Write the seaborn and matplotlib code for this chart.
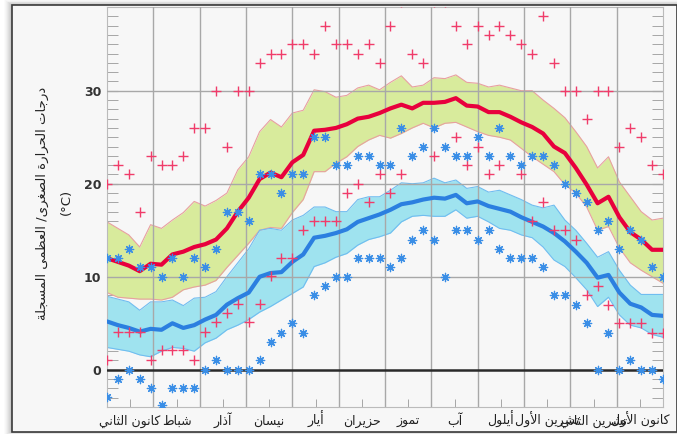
import numpy as np
import pandas as pd
import matplotlib
matplotlib.use("Agg")
import matplotlib.pyplot as plt
import matplotlib.transforms as mtransforms
import seaborn as sns
from matplotlib.patches import Rectangle

# ---------------- data ----------------
months = ["كانون الثاني", "شباط", "آذار", "نيسان", "أيار", "حزيران",
          "تموز", "آب", "أيلول", "تشرين الأول", "تشرين الثاني", "كانون الأول"]
ylabel_ar = "درجات الحرارة الصغرى/ العظمى المسجلة"
ylabel_unit = "(°C)"
ytick_vals = [0, 10, 20, 30]

week = list(range(52))

max_mean = [12.0, 11.6, 11.2, 10.6, 11.4, 11.3, 12.4, 12.7, 13.2, 13.5, 14.0, 15.2, 17.0, 18.5,
            20.5, 21.2, 20.7, 22.3, 23.1, 25.7, 25.8, 26.0, 26.4, 27.0, 27.2, 27.6, 28.1, 28.5,
            28.1, 28.7, 28.7, 28.8, 29.2, 28.4, 28.3, 27.7, 27.7, 27.2, 26.6, 26.1, 25.4, 24.0,
            23.3, 21.7, 19.9, 17.9, 18.6, 16.4, 14.8, 14.0, 12.9, 12.9]
max_hi = [15.9, 15.2, 14.5, 13.2, 15.6, 15.2, 16.1, 16.9, 18.1, 17.6, 18.2, 19.0, 21.5, 22.9,
          25.6, 26.9, 26.1, 27.6, 27.9, 30.1, 29.9, 29.3, 29.5, 30.3, 30.6, 30.1, 30.9, 31.6,
          30.4, 30.6, 31.4, 31.3, 31.7, 30.9, 30.8, 30.4, 30.6, 30.3, 30.0, 30.0, 29.0, 28.1,
          27.1, 25.6, 24.0, 21.7, 22.9, 20.2, 18.6, 17.0, 16.1, 16.3]
max_lo = [8.3, 7.8, 7.7, 7.6, 7.6, 7.5, 7.8, 8.6, 8.9, 9.1, 9.6, 11.0, 12.3, 13.6,
          15.0, 15.3, 15.2, 16.9, 18.3, 21.3, 21.3, 22.2, 22.9, 24.0, 24.7, 25.2, 24.9, 25.4,
          26.0, 26.5, 26.0, 26.5, 26.6, 26.1, 25.6, 25.2, 25.0, 24.7, 23.8, 22.9, 22.1, 21.3,
          19.9, 19.0, 17.5, 15.0, 15.4, 13.1, 11.5, 10.7, 10.0, 9.3]
max_rec_hi = [20, 22, 21, 17, 23, 22, 22, 23, 26, 26, 30, 24, 30, 30,
              33, 34, 34, 35, 35, 34, 37, 35, 35, 34, 35, 33, 37, 39.5,
              34, 33, 39.5, 39.5, 37, 35, 37, 36, 37, 36, 35, 34, 38, 33,
              30, 30, 27, 30, 30, 24, 26, 25, 22, 21]
max_rec_lo = [1, 4.1, 4.1, 4.1, 1, 2.1, 2.1, 2.1, 1, 4.1, 5.1, 6.1, 7.1, 5.1,
              7.1, 10.1, 12, 12, 15, 16, 16, 16, 19, 20, 18, 21, 19, 21,
              np.nan, np.nan, 23, np.nan, 25, 22, 24, 21, 22, np.nan, 21, 16, 18, 15,
              15, 14, 8, 9, 7, 5, 5, 5, 4, 4]

min_mean = [5.2, 4.8, 4.5, 4.1, 4.4, 4.3, 5.0, 4.5, 4.8, 5.4, 5.9, 7.0, 7.7, 8.3,
            10.0, 10.4, 10.5, 11.6, 12.4, 14.2, 14.4, 14.7, 15.1, 15.9, 16.3, 16.7, 17.2, 17.8,
            18.0, 18.3, 18.5, 18.4, 18.8, 17.9, 18.1, 17.6, 17.3, 17.0, 16.4, 15.9, 15.4, 14.7,
            13.8, 12.7, 11.5, 9.9, 10.2, 8.3, 7.1, 6.7, 5.9, 5.8]
min_hi = [7.9, 7.6, 7.3, 6.4, 7.3, 7.3, 7.5, 6.9, 7.7, 7.8, 8.4, 10.0, 11.5, 13.0,
          15.0, 15.2, 15.0, 16.1, 16.6, 17.5, 17.5, 17.0, 17.0, 18.3, 18.6, 18.6, 19.3, 20.1,
          20.0, 20.1, 20.6, 20.1, 20.4, 19.5, 19.7, 19.1, 19.3, 18.8, 18.3, 17.7, 17.4, 17.7,
          16.1, 15.0, 13.6, 12.1, 12.7, 10.7, 9.1, 8.1, 8.1, 8.1]
min_lo = [2.4, 2.2, 2.0, 1.6, 1.4, 2.0, 2.4, 2.3, 2.0, 2.9, 3.4, 4.3, 4.8, 5.4,
          6.2, 6.8, 7.5, 8.2, 8.9, 11.1, 11.5, 12.1, 12.5, 13.4, 14.0, 14.3, 14.7, 15.9,
          16.5, 16.6, 16.5, 16.5, 17.2, 16.3, 16.5, 15.9, 15.2, 15.0, 14.5, 14.2, 13.2, 11.8,
          11.1, 9.9, 8.6, 6.8, 7.8, 5.9, 4.8, 4.5, 3.8, 3.5]
min_rec_hi = [12, 12, 13, 11, 11, 10, 12, 10, 12, 11, 13, 17, 17, 16,
              21, 21, 19, 21, 21, 25, 25, 22, 22, 23, 23, 22, 22, 26,
              23, 24, 26, 24, 23, 23, 25, 23, 26, 23, 22, 23, 23, 22,
              20, 19, 18, 15, 16, 13, 15, 14, 11, 10]
min_rec_lo = [-2.9, -1, 0, -1, -2, -3.8, -2, -2, -2, 0, 1, 0, 0, 0,
              1, 3, 4, 5, 4, 8, 9, 10, 10, 12, 12, 12, 11, 12,
              14, 15, 14, 10, 15, 15, 14, 15, 13, 12, 12, 12, 11, 8,
              8, 7, 5, 0, 4, 0, 1, 0, 0, -1]

# ---------------- Arabic shaping (presentation forms, visual order) ----------------
_AR = {
    'ا': ('\ufe8d', '\ufe8e', None, None), 'آ': ('\ufe81', '\ufe82', None, None),
    'أ': ('\ufe83', '\ufe84', None, None), 'ب': ('\ufe8f', '\ufe90', '\ufe91', '\ufe92'),
    'ة': ('\ufe93', '\ufe94', None, None), 'ت': ('\ufe95', '\ufe96', '\ufe97', '\ufe98'),
    'ث': ('\ufe99', '\ufe9a', '\ufe9b', '\ufe9c'), 'ج': ('\ufe9d', '\ufe9e', '\ufe9f', '\ufea0'),
    'ح': ('\ufea1', '\ufea2', '\ufea3', '\ufea4'), 'د': ('\ufea9', '\ufeaa', None, None),
    'ذ': ('\ufeab', '\ufeac', None, None), 'ر': ('\ufead', '\ufeae', None, None),
    'ز': ('\ufeaf', '\ufeb0', None, None), 'س': ('\ufeb1', '\ufeb2', '\ufeb3', '\ufeb4'),
    'ش': ('\ufeb5', '\ufeb6', '\ufeb7', '\ufeb8'), 'ص': ('\ufeb9', '\ufeba', '\ufebb', '\ufebc'),
    'ط': ('\ufec1', '\ufec2', '\ufec3', '\ufec4'), 'ظ': ('\ufec5', '\ufec6', '\ufec7', '\ufec8'),
    'ع': ('\ufec9', '\ufeca', '\ufecb', '\ufecc'), 'غ': ('\ufecd', '\ufece', '\ufecf', '\ufed0'),
    'ك': ('\ufed9', '\ufeda', '\ufedb', '\ufedc'), 'ل': ('\ufedd', '\ufede', '\ufedf', '\ufee0'),
    'م': ('\ufee1', '\ufee2', '\ufee3', '\ufee4'), 'ن': ('\ufee5', '\ufee6', '\ufee7', '\ufee8'),
    'و': ('\ufeed', '\ufeee', None, None), 'ى': ('\ufeef', '\ufef0', None, None),
    'ي': ('\ufef1', '\ufef2', '\ufef3', '\ufef4'),
}
_LAM_ALEF = {'ا': ('\ufefb', '\ufefc'), 'أ': ('\ufef7', '\ufef8'), 'آ': ('\ufef5', '\ufef6')}


def _dual(c):
    return c in _AR and _AR[c][2] is not None


def shape(s):
    out = []
    i, n = 0, len(s)
    while i < n:
        c = s[i]
        if c not in _AR:
            out.append(c)
            i += 1
            continue
        pj = i > 0 and _dual(s[i - 1])
        if c == 'ل' and i + 1 < n and s[i + 1] in _LAM_ALEF:
            iso, fin = _LAM_ALEF[s[i + 1]]
            out.append(fin if pj else iso)
            i += 2
            continue
        nj = _dual(c) and i + 1 < n and s[i + 1] in _AR
        f = _AR[c]
        out.append(f[3] if (pj and nj) else f[1] if pj else f[2] if nj else f[0])
        i += 1
    return ''.join(reversed(out))


# ---------------- figure ----------------
W, H = 677, 434
sns.set_style("white")
plt.rcParams['font.family'] = ['DejaVu Sans']

fig = plt.figure(figsize=(W / 100, H / 100), dpi=100)
fig.patch.set_facecolor('white')

# window shadow + frame
for k, a in enumerate([0.03, 0.04, 0.05, 0.06, 0.07, 0.08, 0.09, 0.10]):
    off = 8 - k
    fig.patches.append(Rectangle(((12 - off) / W, (H - 432 - off * 0.3) / H), (W - 12 + off) / W,
                                 (432 - 5 + off) / H, transform=fig.transFigure,
                                 facecolor='#000000', alpha=a * 0.5, edgecolor='none', zorder=-5))
fig.patches.append(Rectangle((12 / W, (H - 432) / H), (W - 12) / W, (432 - 5) / H,
                             transform=fig.transFigure, facecolor='#f7f7f7',
                             edgecolor='#3a3a3a', linewidth=1.2, zorder=-4))

ax = fig.add_axes([107 / W, 1 - 407 / H, 556 / W, 400 / H])
ax.set_facecolor('#f7f7f7')

green = '#d8eb9c'
cyan = '#9fe3ef'
red = '#e8003d'
blue = '#2b7fe0'

ax.fill_between(week, max_lo, max_hi, color=green, linewidth=0, zorder=1)
ax.fill_between(week, min_lo, min_hi, color=cyan, linewidth=0, zorder=1)

df = pd.DataFrame({'week': week, 'max_mean': max_mean, 'max_hi': max_hi, 'max_lo': max_lo,
                   'min_mean': min_mean, 'min_hi': min_hi, 'min_lo': min_lo,
                   'max_rec_hi': max_rec_hi, 'max_rec_lo': max_rec_lo,
                   'min_rec_hi': min_rec_hi, 'min_rec_lo': min_rec_lo})

for col in ['max_hi', 'max_lo']:
    sns.lineplot(data=df, x='week', y=col, ax=ax, color='#e8a0a0', linewidth=0.8, zorder=2)
for col in ['min_hi', 'min_lo']:
    sns.lineplot(data=df, x='week', y=col, ax=ax, color='#70bdf0', linewidth=0.8, zorder=2)

# grid
bounds = [51 * k / 12 for k in range(1, 12)]
for b in bounds:
    ax.axvline(b, color='#a8a8a8', linewidth=1.0, zorder=3)
for v in [10, 20, 30]:
    ax.axhline(v, color='#a8a8a8', linewidth=1.0, zorder=3)
ax.axhline(0, color='#2a2a2a', linewidth=1.8, zorder=3)

sns.lineplot(data=df, x='week', y='max_mean', ax=ax, color=red, linewidth=3.0, zorder=6)
sns.lineplot(data=df, x='week', y='min_mean', ax=ax, color=blue, linewidth=3.0, zorder=6)

plus_c = '#f03c6a'
ast_c = '#3a8ee6'
for col in ['max_rec_hi', 'max_rec_lo']:
    sns.scatterplot(data=df, x='week', y=col, ax=ax, marker='+', s=45, color=plus_c,
                    linewidth=1.0, zorder=7)
for col in ['min_rec_hi', 'min_rec_lo']:
    sns.scatterplot(data=df, x='week', y=col, ax=ax, marker=(8, 2, 0), s=36, color=ast_c,
                    linewidth=0.9, zorder=7)

ax.set_xlim(0, 51)
ax.set_ylim(-4, 39)
ax.set_xlabel('')
ax.set_ylabel('')

mids = [51 * (k + 0.5) / 12 for k in range(12)]
ax.set_xticks(bounds)
ax.set_xticklabels([])
ax.set_xticks(mids, minor=True)
ax.set_xticklabels([], minor=True)
ax.tick_params(axis='x', which='major', length=0)
ax.tick_params(axis='x', which='minor', direction='in', length=6, color='#999999',
               bottom=True)
trans = mtransforms.blended_transform_factory(ax.transData, ax.transAxes)
for m, xm in zip(months, mids):
    ax.text(xm, -18 / 400, shape(m), transform=trans, ha='center', va='baseline',
            fontsize=9, color='#222222', clip_on=False)

ax.set_yticks(ytick_vals)
ax.set_yticklabels([str(v) for v in ytick_vals], fontsize=9, fontweight='bold', color='#333333')
ax.set_yticks(np.arange(-4, 40, 1), minor=True)
ax.tick_params(axis='y', which='both', direction='in', length=8, color='#999999',
               left=True, right=True, pad=4)

for s in ['left', 'right', 'bottom', 'top']:
    ax.spines[s].set_visible(True)
    ax.spines[s].set_color('#bbbbbb')
    ax.spines[s].set_linewidth(0.8)

fig.text(42 / W, 1 - 203 / H, shape(ylabel_ar), rotation=90, ha='center', va='center',
         fontsize=9.5, color='#222222')
fig.text(66 / W, 1 - 202 / H, ylabel_unit, rotation=90, ha='center', va='center',
         fontsize=9.5, color='#222222')

fig.savefig('out.png', dpi=100)
